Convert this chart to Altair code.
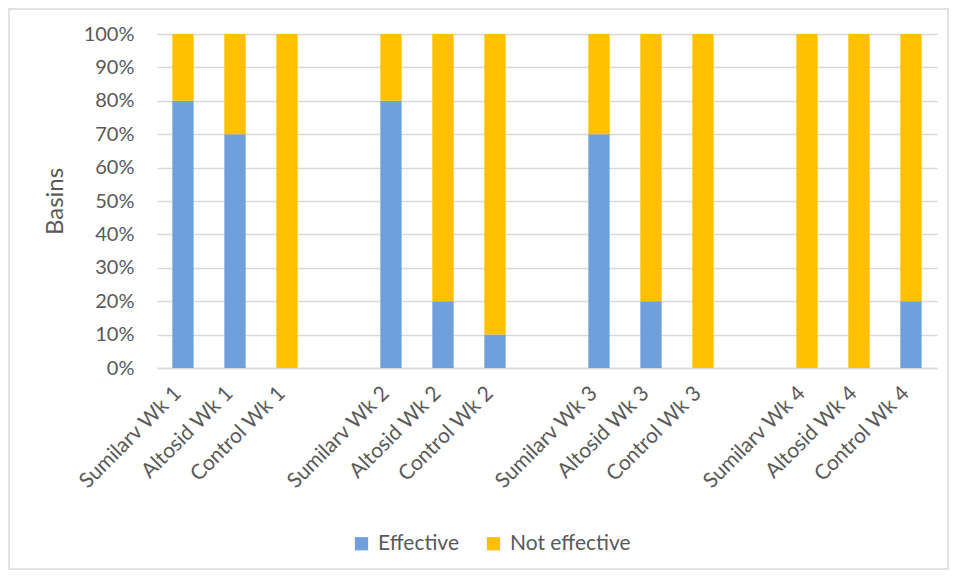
import altair as alt
import pandas as pd

categories = ["Sumilarv Wk 1", "Altosid Wk 1", "Control Wk 1", " ",
              "Sumilarv Wk 2", "Altosid Wk 2", "Control Wk 2", "  ",
              "Sumilarv Wk 3", "Altosid Wk 3", "Control Wk 3", "   ",
              "Sumilarv Wk 4", "Altosid Wk 4", "Control Wk 4"]
bar_categories = ["Sumilarv Wk 1", "Altosid Wk 1", "Control Wk 1",
                  "Sumilarv Wk 2", "Altosid Wk 2", "Control Wk 2",
                  "Sumilarv Wk 3", "Altosid Wk 3", "Control Wk 3",
                  "Sumilarv Wk 4", "Altosid Wk 4", "Control Wk 4"]
effective = [0.8, 0.7, 0.0, 0.8, 0.2, 0.1, 0.7, 0.2, 0.0, 0.0, 0.0, 0.2]
not_effective = [0.2, 0.3, 1.0, 0.2, 0.8, 0.9, 0.3, 0.8, 1.0, 1.0, 1.0, 0.8]
series = ["Effective", "Not effective"]
colors = ["#6FA0DC", "#FFC000"]
y_ticks = [i / 10 for i in range(11)]

rows = []
for c, e, n in zip(bar_categories, effective, not_effective):
    rows.append({"cat": c, "series": "Effective", "val": e, "ord": 0})
    rows.append({"cat": c, "series": "Not effective", "val": n, "ord": 1})
df = pd.DataFrame(rows)

FONT = "Lato"
GREY = "#595959"

bars = alt.Chart(df).mark_bar().encode(
    x=alt.X("cat:N", scale=alt.Scale(domain=categories, paddingInner=0.59, paddingOuter=0.295),
            axis=alt.Axis(title=None, labelAngle=-45, labelAlign="right", labelBaseline="middle",
                          labelFontSize=21, labelColor=GREY, labelFont=FONT, labelPadding=22,
                          labelOffset=-5,
                          ticks=False, domainColor="#D9D9D9", domainWidth=1.5, grid=False,
                          labelOverlap=False)),
    y=alt.Y("val:Q", stack="zero", scale=alt.Scale(domain=[0, 1], nice=False),
            axis=alt.Axis(title="Basins", format=".0%", values=y_ticks, titleFontSize=24,
                          titleFont=FONT, titleColor=GREY, titleFontWeight="normal",
                          labelFontSize=20, labelFont=FONT, labelColor=GREY, labelPadding=23,
                          ticks=False, domain=False, gridColor="#D9D9D9", gridWidth=1.5,
                          titlePadding=16)),
    color=alt.Color("series:N", scale=alt.Scale(domain=series, range=colors),
                    legend=alt.Legend(title=None, orient="none", direction="horizontal",
                                      legendX=194, legendY=499, symbolType="square",
                                      symbolSize=175, symbolStrokeWidth=0, labelFontSize=21,
                                      labelFont=FONT, labelColor=GREY, columnPadding=24,
                                      labelOffset=6)),
    order=alt.Order("ord:Q", sort="ascending"),
)

frame = alt.Chart(pd.DataFrame({"a": [0]})).mark_rect(fill=None, stroke="#D9D9D9", strokeWidth=1.5).encode(
    x=alt.value(-148), x2=alt.value(791), y=alt.value(-25), y2=alt.value(535)
)

chart = alt.layer(bars, frame).properties(
    width=780, height=334,
    autosize=alt.AutoSizeParams(type="none"),
    padding={"left": 149, "top": 26, "right": 12, "bottom": 202},
).configure_view(stroke=None)

chart.save("out.html", embed_options={"renderer": "svg", "actions": False})
